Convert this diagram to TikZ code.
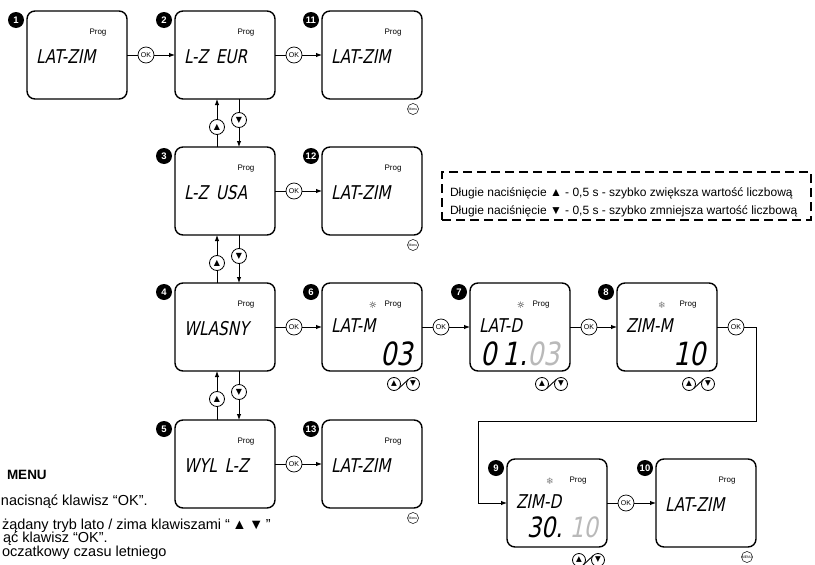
\documentclass[tikz,border=0pt]{standalone}
\usepackage{fontspec}
\setmainfont{Liberation Sans}
\setsansfont{Liberation Sans}
\newfontfamily\lcdfont[FakeSlant=0.2,FakeStretch=0.8,WordSpace=1.6]{DejaVu Sans}
\newfontfamily\symfont{DejaVu Sans}
\usetikzlibrary{arrows.meta,calc}
\begin{document}
\begin{tikzpicture}[x=1pt,y=-1pt,inner sep=0pt,outer sep=0pt,line width=0.9pt,
>={Latex[length=6pt,width=4.5pt]},
lcdbox/.style={draw,rectangle,rounded corners=8pt,minimum width=100pt,minimum height=88pt,line width=1.4pt},
badge/.style={circle,fill=black,minimum size=16pt,text=white,font=\sffamily\bfseries\fontsize{9.5}{9.5}\selectfont},
okbtn/.style={draw,circle,minimum size=16pt,line width=0.7pt,font=\sffamily\fontsize{7}{7}\selectfont},
arrbtn/.style={draw,circle,minimum size=15pt,line width=0.8pt,font=\symfont\fontsize{8}{8}\selectfont},
keybtn/.style={draw,circle,minimum size=13pt,line width=0.8pt,font=\symfont\fontsize{7.5}{7.5}\selectfont},
menubtn/.style={draw,circle,minimum size=11pt,line width=0.5pt,font=\sffamily\fontsize{3.5}{3.5}\selectfont},
prog/.style={font=\sffamily\fontsize{8}{8}\selectfont},
icon/.style={font=\symfont\fontsize{9}{9}\selectfont},
lcd/.style={anchor=west,font=\lcdfont\fontsize{19}{19}\selectfont},
digits/.style={anchor=east,font=\lcdfont\fontsize{32}{32}\selectfont},
note/.style={anchor=base west,font=\sffamily\fontsize{12}{12}\selectfont},
memo/.style={anchor=base west,font=\sffamily\fontsize{14.5}{14.5}\selectfont}]
\useasboundingbox (0,0) rectangle (815,565);

% displays
\foreach \n/\x/\y in {1/77/55,2/225/55,11/372/55,3/225/191,12/372/191,4/225/327,6/372/327,7/520/327,8/667/327,5/225/464,13/372/464,9/557/503,10/706/503}{
  \node[lcdbox] (b\n) at (\x,\y) {};
  \node[badge] (n\n) at ($(b\n.north west)+(-11,9)$) {\n};
  \node[prog] (p\n) at ($(b\n.north west)+(71,22)$) {Prog};
}
\foreach \n/\t in {1/LAT-ZIM,2/L-Z EUR,11/LAT-ZIM,3/L-Z USA,12/LAT-ZIM,4/WLASNY,5/WYL L-Z,13/LAT-ZIM,10/LAT-ZIM}
  \node[lcd] (t\n) at ($(b\n.north west)+(9,46)$) {\t};
\foreach \n/\t in {6/LAT-M,7/LAT-D,8/ZIM-M,9/ZIM-D}
  \node[lcd] (t\n) at ($(b\n.north west)+(9,43)$) {\t};
\node[digits] (d6) at ($(b6.north east)+(-9,71)$) {03};
\node[digits] (d7) at ($(b7.north east)+(-10,71)$) {0\hspace{6pt}1.\textcolor{gray!55}{03}};
\node[digits] (d8) at ($(b8.north east)+(-11,71)$) {10};
\node[digits,font=\lcdfont\fontsize{28}{28}\selectfont] (d9) at ($(b9.north east)+(-9,68)$) {30.\hspace{7pt}\textcolor{gray!55}{10}};
\node[icon] (s6) at ($(b6.north west)+(51,22)$) {☼};
\node[icon] (s7) at ($(b7.north west)+(51,22)$) {☼};
\node[icon,text=gray] (s8) at ($(b8.north west)+(45,22)$) {❄};
\node[icon,text=gray] (s9) at ($(b9.north west)+(43,22)$) {❄};

% OK keys
\foreach \a/\b in {1/2,2/11,3/12,4/6,6/7,7/8,5/13,9/10}{
  \node[okbtn] (ok\a) at ($(b\a.east)+(19,0)$) {OK};
  \draw (b\a.east) -- (ok\a);
  \draw[->] (ok\a) -- (b\b);
}
\node[okbtn] (ok8) at ($(b8.east)+(19,0)$) {OK};
\coordinate (t1) at (756,421);
\coordinate (t2) at (478,421);
\draw (b8.east) -- (ok8);
\draw[->] (ok8) -| (t1) -- (t2) |- (b9.west);

% arrow keys between modes
\foreach \a/\b in {2/3,3/4,4/5}{
  \node[arrbtn] (up\b) at ($(b\a.south)+(-8,28)$) {▲};
  \node[arrbtn] (dn\a) at ($(b\a.south)+(14,21)$) {▼};
  \draw (b\b.north -| up\b) -- (up\b);
  \draw[->] (up\b) -- (b\a.south -| up\b);
  \draw (b\a.south -| dn\a) -- (dn\a);
  \draw[->] (dn\a) -- (b\b.north -| dn\a);
}
\foreach \n in {6,7,8,9}{
  \node[keybtn] (ku\n) at ($(b\n.south east)+(-28,13)$) {▲};
  \node[keybtn] (kd\n) at ($(b\n.south east)+(-9,13)$) {▼};
  \draw (ku\n.south east) -- (kd\n.north west);
}
\foreach \n/\t in {11/Menu,12/Menu,13/Menu,10/MENU}
  \node[menubtn] (m\n) at ($(b\n.south east)+(-9,10)$) {\t};

% hint
\node[draw,dash pattern=on 9pt off 5pt,line width=1.1pt,minimum width=369pt,minimum height=48pt] (hint) at (626.5,196) {};
\node[note] (h1) at (450,196) {Długie naciśnięcie ▲ - 0,5 s - szybko zwiększa wartość liczbową};
\node[note] (h2) at (450,214) {Długie naciśnięcie ▼ - 0,5 s - szybko zmniejsza wartość liczbową};

% text
\node[memo,font=\sffamily\bfseries\fontsize{13.5}{13.5}\selectfont] (x1) at (7,479) {MENU};
\node[memo] (x2) at (1,505) {nacisnąć klawisz “OK”.};
\node[memo] (x3) at (2,529) {żądany tryb lato / zima klawiszami “\,▲\,▼\,”};
\node[memo] (x4) at (3,542) {ąć klawisz “OK”.};
\node[memo] (x5) at (2,556) {oczatkowy czasu letniego};
\end{tikzpicture}
\end{document}
